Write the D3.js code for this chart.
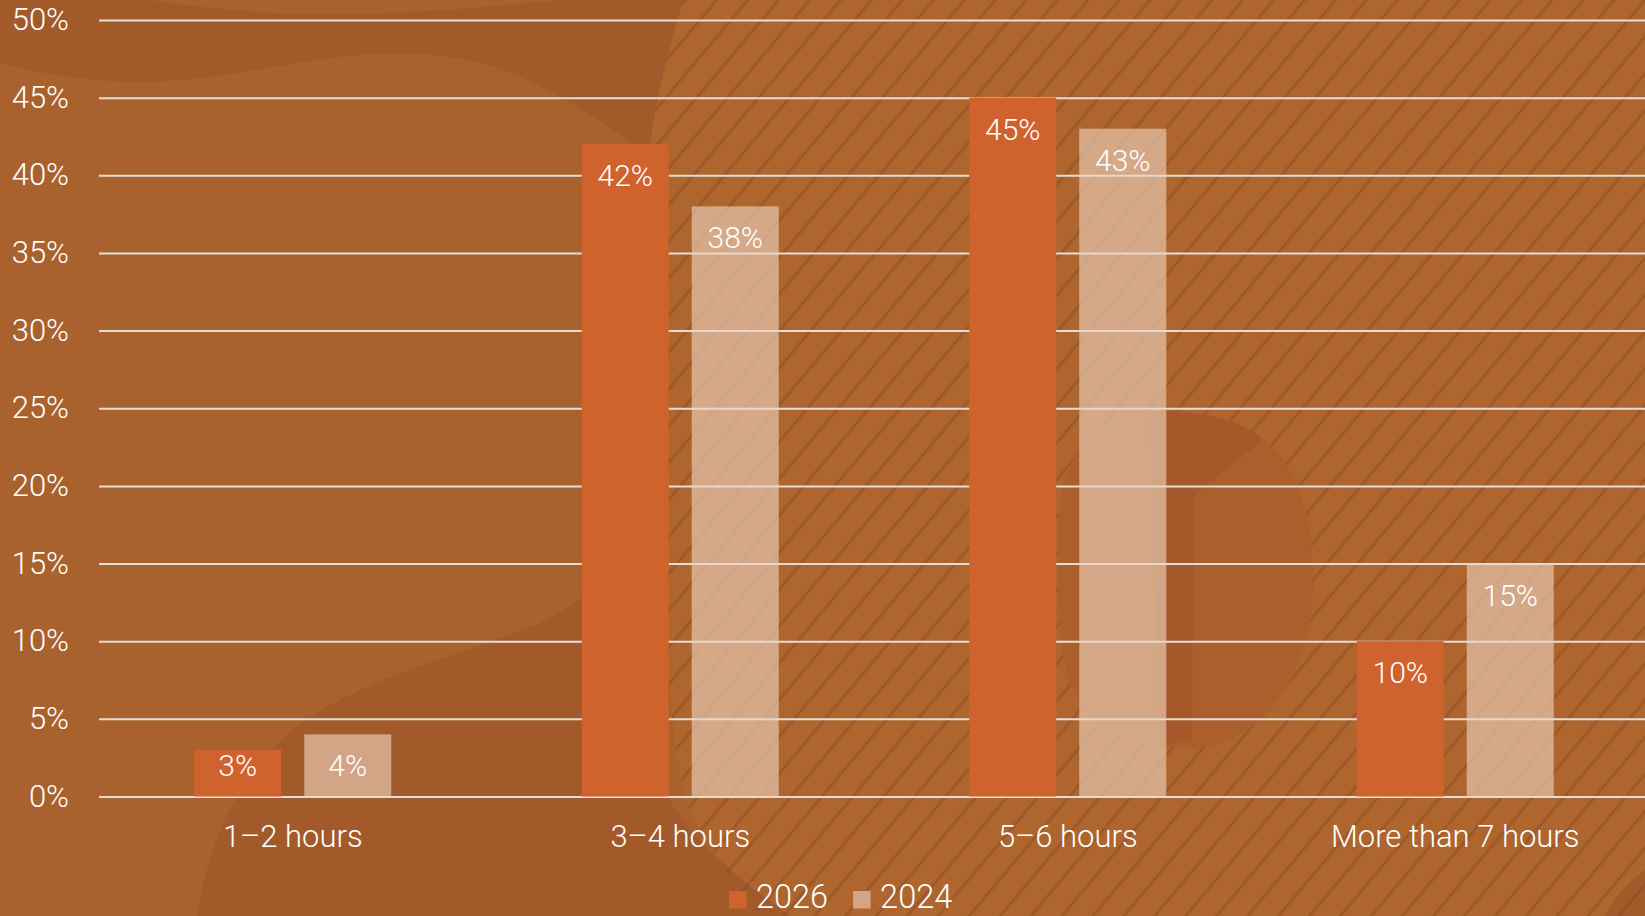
<!DOCTYPE html>
<html>
<head>
<meta charset="utf-8">
<script src="https://cdn.jsdelivr.net/npm/d3@7"></script>
<style>
  html, body { margin: 0; padding: 0; background: #A9622D; }
  svg { display: block; }
  text { font-family: Roboto, "Open Sans", sans-serif; font-weight: 300; fill: #FFFFFF; }
</style>
</head>
<body>
<svg id="chart" width="1645" height="916"></svg>
<script>
// ---- data ----
const categories = ["1\u20132 hours", "3\u20134 hours", "5\u20136 hours", "More than 7 hours"];
const series = ["2026", "2024"];
const values2026 = [3, 42, 45, 10];
const values2024 = [4, 38, 43, 15];
const yTicks = [0, 5, 10, 15, 20, 25, 30, 35, 40, 45, 50];
const seriesColors = ["#CF622D", "rgba(238,211,190,0.62)"];
const legendColors = ["#CF622D", "#D4A584"];

const W = 1645, H = 916;
const svg = d3.select("#chart");
const defs = svg.append("defs");

// ---- background decoration ----
const bg = svg.append("g");
bg.append("rect").attr("width", W).attr("height", H).attr("fill", "#A9622D");

const hatchPath = "M684,0 L1645,0 L1645,916 L760,916 C735,880 700,840 685,800 C672,740 664,640 660,520 C655,400 640,260 648,160 C655,100 670,40 684,0 Z";

// top-left dark shape (below the hatch region)
bg.append("path")
  .attr("d", "M0,0 L150,0 C230,12 300,16 360,14 C430,12 500,6 560,0 L700,0 L700,160 L640,150 C600,120 545,82 485,64 C430,50 380,52 330,58 C250,70 180,86 110,81 C60,77 25,70 0,63 Z")
  .attr("fill", "#A35A2A");

// hatch region base
bg.append("path").attr("d", hatchPath).attr("fill", "#AE652E");

// lower-left dark shape
bg.append("path")
  .attr("d", "M197,916 C212,820 255,745 330,705 C400,668 470,652 535,625 C595,600 640,545 662,480 L664,790 C690,840 740,880 790,916 Z")
  .attr("fill", "#A35A2A");

// bottom-right corner dark shape
bg.append("path")
  .attr("d", "M1645,870 C1625,885 1612,900 1605,916 L1645,916 Z")
  .attr("fill", "#A35A2A");

// hatch stripes
const pat = defs.append("pattern")
  .attr("id", "hatch")
  .attr("patternUnits", "userSpaceOnUse")
  .attr("width", 23.7).attr("height", 40)
  .attr("patternTransform", "rotate(40)");
pat.append("line")
  .attr("x1", 4).attr("y1", 0).attr("x2", 4).attr("y2", 40)
  .attr("stroke", "#7E4020").attr("stroke-width", 2.6).attr("stroke-opacity", 0.38);
defs.append("clipPath").attr("id", "hatchClip").append("path").attr("d", hatchPath);
bg.append("rect").attr("width", W).attr("height", H)
  .attr("fill", "url(#hatch)").attr("clip-path", "url(#hatchClip)");

// middle-right blob (no hatch)
bg.append("path")
  .attr("d", "M1134,411 C1190,407 1240,420 1264,440 C1302,472 1313,522 1313,585 C1313,665 1270,745 1190,748 C1120,751 1082,716 1069,680 C1056,640 1056,525 1062,490 C1072,450 1100,418 1134,411 Z")
  .attr("fill", "#AA5F2C");
bg.append("path")
  .attr("d", "M1150,412 C1200,410 1240,420 1262,438 C1235,468 1205,478 1194,500 L1192,738 C1180,744 1170,746 1160,744 Z")
  .attr("fill", "#A5592A");

// ---- scales ----
const x0 = d3.scaleBand().domain(categories).range([99, 1649]).padding(0);
const x1 = d3.scaleBand().domain(series)
  .range([x0.bandwidth() / 2 - 98.5, x0.bandwidth() / 2 + 98.5])
  .paddingInner(23 / 110).paddingOuter(0);
const y = d3.scaleLinear().domain([0, 50]).range([796.5, 20]);

// ---- gridlines + y axis ----
const yAxis = d3.axisLeft(y).tickValues(yTicks).tickFormat(d => d + "%")
  .tickSize(-(W - 99)).tickPadding(30);
const gy = svg.append("g").attr("transform", "translate(99,0)").call(yAxis);
gy.select(".domain").remove();
gy.selectAll(".tick line").attr("stroke", "#E4DEDA").attr("stroke-width", 2);
gy.selectAll(".tick text")
  .attr("x", -30).attr("dy", null).attr("y", 9.5)
  .attr("text-anchor", "end")
  .style("font-size", "31px").style("font-family", "Roboto, sans-serif").style("font-weight", 300)
  .attr("fill", "#FFFFFF");

// ---- x axis labels ----
const xAxis = d3.axisBottom(x0).tickSize(0).tickPadding(0);
const gx = svg.append("g").attr("transform", "translate(0,796.5)").call(xAxis);
gx.select(".domain").remove();
gx.selectAll(".tick text")
  .attr("y", 50).attr("dy", null)
  .style("font-size", "31px").style("font-family", "Roboto, sans-serif").style("font-weight", 300)
  .attr("fill", "#FFFFFF");

// ---- bars ----
const rows = categories.map((c, i) => ({ cat: c, vals: [
  { key: "2026", v: values2026[i], idx: 0 },
  { key: "2024", v: values2024[i], idx: 1 }
]}));
const groups = svg.append("g").selectAll("g").data(rows).join("g")
  .attr("transform", d => `translate(${x0(d.cat)},0)`);
groups.selectAll("rect").data(d => d.vals).join("rect")
  .attr("x", d => x1(d.key))
  .attr("y", d => y(d.v))
  .attr("width", x1.bandwidth())
  .attr("height", d => y(0) - y(d.v))
  .attr("fill", d => seriesColors[d.idx]);
groups.selectAll("text").data(d => d.vals).join("text")
  .attr("x", d => x1(d.key) + x1.bandwidth() / 2)
  .attr("y", d => Math.min(y(d.v) + 42, y(0) - 21))
  .attr("text-anchor", "middle")
  .style("font-size", "30px")
  .text(d => d.v + "%");

// ---- legend ----
const legend = svg.append("g");
let lx = 729;
series.forEach((s, i) => {
  legend.append("rect").attr("x", lx).attr("y", 891).attr("width", 17.5).attr("height", 17.5)
    .attr("fill", legendColors[i]);
  const t = legend.append("text").attr("x", lx + 27).attr("y", 907.5)
    .style("font-size", "32.5px").text(s);
  lx = lx + 27 + t.node().getComputedTextLength() + 25;
});
</script>
</body>
</html>
